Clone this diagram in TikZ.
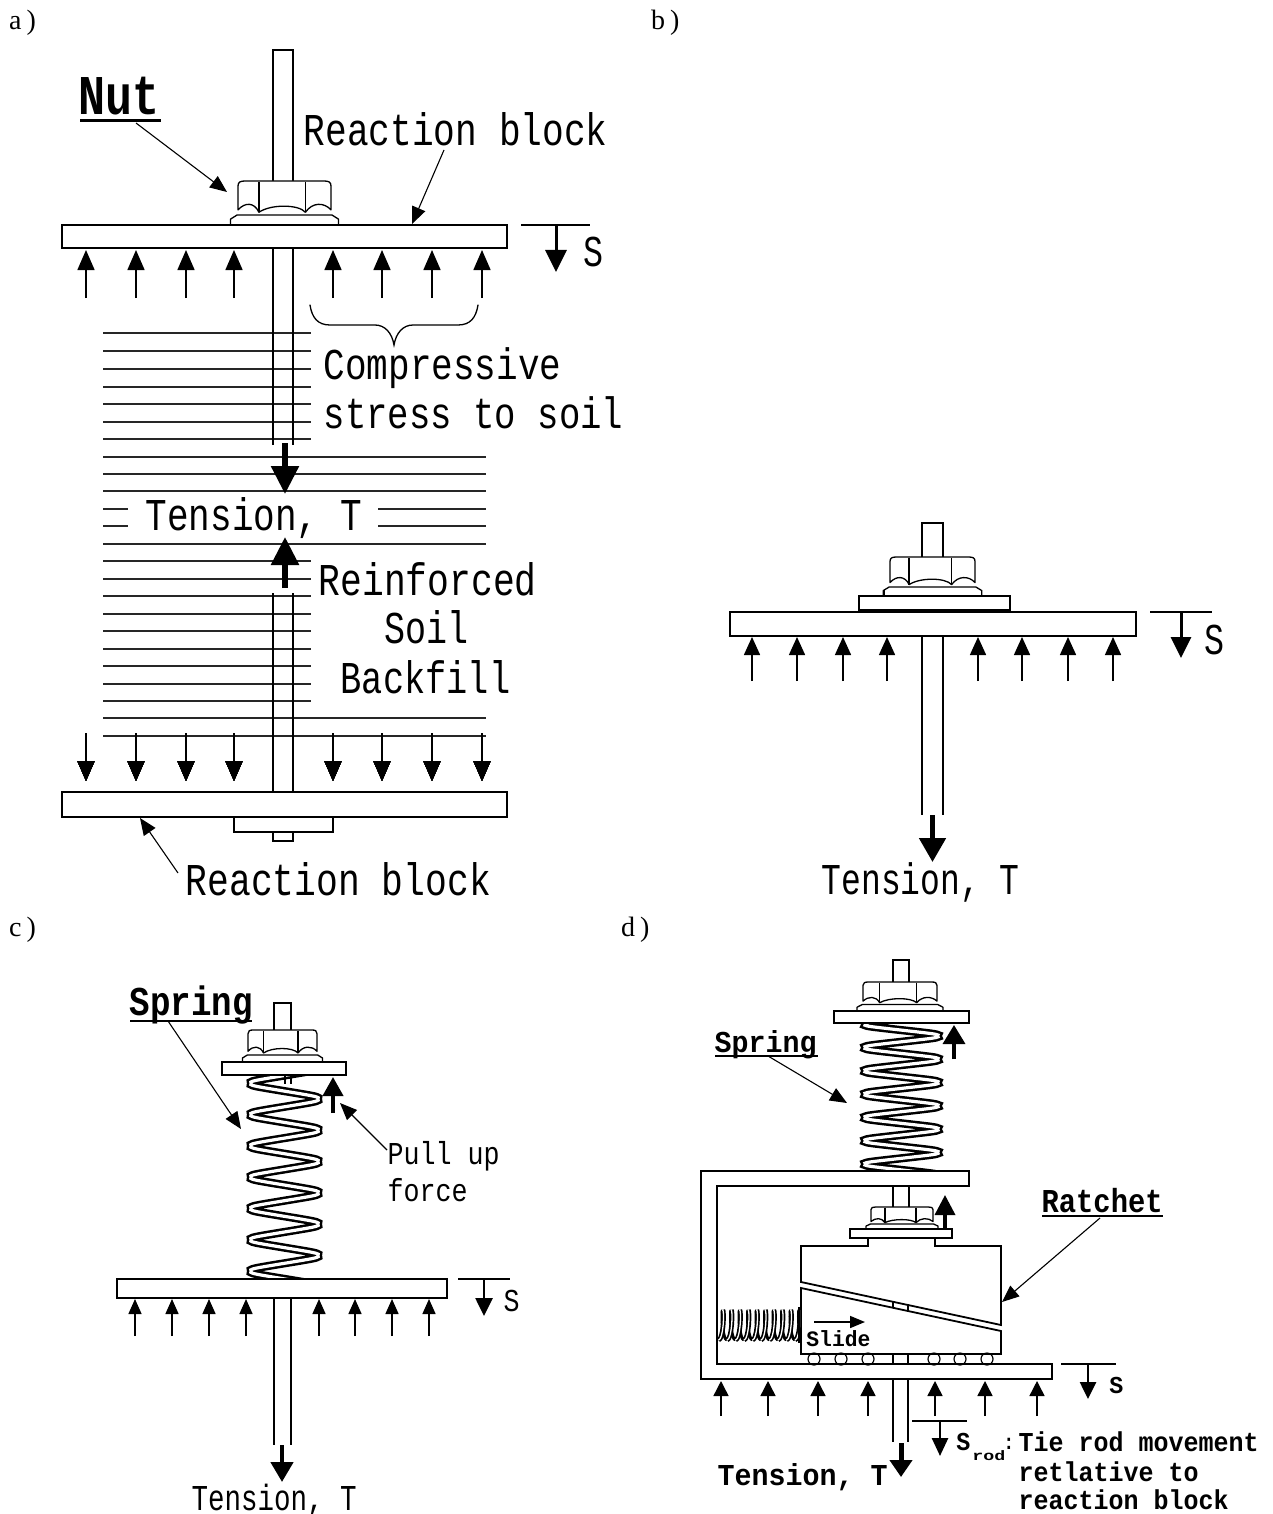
\documentclass[tikz,border=0pt]{standalone}
\usepackage{fontspec}
\usetikzlibrary{arrows.meta}
\newfontfamily\lmono{Liberation Mono}
\newfontfamily\lserif{Liberation Serif}
\tikzset{
  mono/.style 2 args={anchor=base west,inner sep=0pt,transform shape,xscale=#1/6,yscale=#2/6.59,font=\lmono\fontsize{10}{12}\selectfont},
  monob/.style 2 args={anchor=base west,inner sep=0pt,transform shape,xscale=#1/6,yscale=#2/6.59,font=\lmono\bfseries\fontsize{10}{12}\selectfont},
  panel/.style={anchor=base west,inner sep=0pt,font=\lserif\fontsize{28}{30}\selectfont},
  body/.style={line width=1.8pt,fill=white,line join=miter},
  thinl/.style={line width=1.8pt},
  soil/.style={line width=2pt,black!85},
  leader/.style={line width=1.1pt,-{Triangle[length=17pt,width=14pt]}},
  tube/.style={double=white,double distance=3.2pt,line width=2.5pt},
  tubes/.style={double=white,double distance=1.3pt,line width=1.7pt},
}
% force arrow: x, y start, y end, head length, head width, line width
\newcommand\farrow[6]{\draw[line width=#6pt,-{Triangle[length=#4pt,width=#5pt]}] (#1,#2) -- (#1,#3);}
% nut: x centre, y top, half width, height
\newcommand\nutshape[4]{%
\begin{scope}[shift={(#1,#2)},x=#3pt,y={(0pt,-#4pt)},line width=1.3pt,line join=round]
 \draw[fill=white] (-1,0.85) -- (-1,0.15) .. controls (-1,0.03) and (-0.95,0) .. (-0.85,0) -- (0.85,0) .. controls (0.95,0) and (1,0.03) .. (1,0.15) -- (1,0.85)
   .. controls (0.85,0.62) and (0.6,0.62) .. (0.45,0.92) .. controls (0.3,0.68) and (-0.3,0.68) .. (-0.55,0.92) .. controls (-0.65,0.62) and (-0.85,0.62) .. (-1,0.85) -- cycle;
 \draw (-0.55,0.03) -- (-0.55,0.92) (0.45,0.03) -- (0.45,0.92);
 \draw[fill=white] (-1.16,1.28) -- (-1.16,1.12) -- (-1.02,1) -- (1.02,1) -- (1.16,1.12) -- (1.16,1.28);
\end{scope}}
% coil: x centre, half width of centre line, y top, y bottom, pitch, y of first left turn, last turn index
\newcommand\coil[7]{%
\begin{scope}
 \clip (#1-#2-8,#3) rectangle (#1+#2+8,#4);
 \pgfmathsetmacro\cxl{#1-#2}\pgfmathsetmacro\cxr{#1+#2}
 \pgfmathsetmacro\cxli{#1-#2+6}\pgfmathsetmacro\cxri{#1+#2-6}
 \gdef\coilpts{}
 \foreach \k in {0,...,#7}{
  \pgfmathsetmacro\ya{#6+#5*\k}
  \pgfmathsetmacro\yb{#6+#5*\k+#5*0.1}
  \pgfmathsetmacro\yd{#6+#5*\k+#5*0.4}
  \pgfmathsetmacro\yc{#6+#5*\k+#5*0.5}
  \pgfmathsetmacro\ye{#6+#5*\k+#5*0.6}
  \pgfmathsetmacro\yf{#6+#5*\k+#5*0.9}
  \xdef\coilpts{\coilpts (\cxl,\ya) (\cxli,\yb) (\cxri,\yd) (\cxr,\yc) (\cxri,\ye) (\cxli,\yf) }
 }
 \edef\coildraw{\noexpand\draw[tube] plot[smooth,tension=0.5] coordinates {\coilpts};}
 \coildraw
\end{scope}}
\begin{document}
\begin{tikzpicture}[x=1pt,y=-1pt]
\useasboundingbox (0,0) rectangle (1273,1514);
\fill[white] (0,0) rectangle (1273,1514);

% ---------- panel a ----------
\node[panel] (pa) at (9,30) {a\kern5pt)};
\foreach \y in {333,351,369,387,404,422,439,561,579,596,614,631,649,666,684,701}
  \draw[soil] (103,\y) -- (311,\y);
\foreach \y in {457,474,491,544,718,736}
  \draw[soil] (103,\y) -- (486,\y);
\foreach \y in {509,526}{
  \draw[soil] (103,\y) -- (128,\y);
  \draw[soil] (378,\y) -- (486,\y);}
\draw[thinl] (273,248) -- (273,445) (293,248) -- (293,445);
\draw[thinl] (273,593) -- (273,792) (293,593) -- (293,792);
\draw[body] (273,181) -- (273,50) -- (293,50) -- (293,181);
\nutshape{284.5}{181}{46.5}{34}
\draw[body] (62,225) rectangle (507,248);
\foreach \x in {86,136,186,234,333,382,432,482} \farrow{\x}{298}{250}{20}{17}{1.5}
\foreach \x in {86,136,186,234,333,382,432,482} \farrow{\x}{733}{781}{20}{17}{1.5}
\draw[thinl] (521,225) -- (590,225);
\farrow{556}{225}{272}{22}{21}{3}
\node[mono={20}{29}] (sa) at (583,267) {S};
\farrow{285}{443}{494}{28}{27}{5.5}
\farrow{285}{588}{537}{28}{27}{5.5}
\draw[body] (234,817) rectangle (333,832);
\draw[body] (273,832) rectangle (293,841);
\draw[body] (62,792) rectangle (507,817);
\draw[line width=1.3pt,line cap=round] (310,305) .. controls (312,318) and (318,325) .. (330,325) -- (375,325) .. controls (385,325) and (392,333) .. (394,345) .. controls (396,333) and (403,325) .. (413,325) -- (458,325) .. controls (470,325) and (476,318) .. (478,305);
\node[monob={27}{37}] (nut) at (78,115) {Nut};
\draw[line width=3pt] (80,121) -- (161,121);
\node[mono={21.7}{30}] (rb1) at (303,146) {Reaction block};
\node[mono={21.6}{29}] (comp) at (323,379) {Compressive};
\node[mono={21.4}{29}] (stress) at (323,428) {stress to soil};
\node[mono={21.6}{30}] (tens) at (145,530) {Tension, T};
\node[mono={21.8}{30}] (reinf) at (318,595) {Reinforced};
\node[mono={21}{30}] (soiltxt) at (384,643) {Soil};
\node[mono={21.2}{30}] (back) at (340,693) {Backfill};
\node[mono={21.8}{30}] (rb2) at (185,895) {Reaction block};
\coordinate (nuts) at (136,123); \coordinate (nute) at (227,192);
\draw[leader] (nuts) -- (nute);
\coordinate (rb1s) at (444,150); \coordinate (rb1e) at (412,224);
\draw[leader] (rb1s) -- (rb1e);
\coordinate (rb2s) at (178,873); \coordinate (rb2e) at (140,818);
\draw[leader] (rb2s) -- (rb2e);

% ---------- panel b ----------
\node[panel] (pb) at (651,30) {b\kern5pt)};
\draw[body] (922,557) -- (922,523) -- (943,523) -- (943,557);
\nutshape{932.5}{557}{42.5}{30}
\draw[thinl] (884,596) -- (884,590);
\draw[body] (859,596) rectangle (1010,610);
\draw[thinl] (922,636) -- (922,815) (943,636) -- (943,815);
\draw[body] (730,612) rectangle (1136,636);
\foreach \x in {752,797,843,887,978,1022,1068,1113} \farrow{\x}{681}{637}{18}{16}{1.5}
\draw[thinl] (1150,612) -- (1212,612);
\farrow{1181}{612}{658}{21}{20}{3}
\node[mono={20}{29}] (sb) at (1204,654) {S};
\farrow{932.5}{815}{862}{24}{26}{5}
\node[mono={19.8}{29}] (tb) at (821,894) {Tension, T};

% ---------- panel c ----------
\node[panel] (pc) at (9,936) {c\kern5pt)};
\draw[body] (274,1030) -- (274,1003) -- (291,1003) -- (291,1030);
\nutshape{282.5}{1030}{34.5}{25}
\coil{284.5}{33.5}{1075}{1279}{31.3}{1052}{7}
\draw[line width=1.5pt] (285,1075) -- (285,1084) (291,1075) -- (291,1084);
\draw[body] (222,1062) rectangle (346,1075);
\draw[thinl] (274,1298) -- (274,1445) (291,1298) -- (291,1445);
\draw[body] (117,1279) rectangle (447,1298);
\foreach \x in {135,172,209,246,319,355,392,429} \farrow{\x}{1336}{1299}{15}{13}{1.5}
\draw[thinl] (458,1279) -- (510,1279);
\farrow{484}{1279}{1316}{18}{17}{2.6}
\node[mono={16}{21}] (sc) at (503,1311) {S};
\farrow{282}{1445}{1482}{20}{22}{4.5}
\node[mono={16.5}{24}] (tc) at (191,1510) {Tension, T};
\farrow{333}{1113}{1077}{19}{20}{4}
\node[monob={20.5}{27}] (springc) at (129,1015) {Spring};
\draw[line width=2.4pt] (130,1021) -- (252,1021);
\node[mono={16}{21}] (pull) at (387,1164) {Pull up};
\node[mono={16}{21}] (force) at (387,1201) {force};
\coordinate (sps) at (168,1021); \coordinate (spe) at (241,1129);
\draw[leader] (sps) -- (spe);
\coordinate (pus) at (387,1150); \coordinate (pue) at (340,1103);
\draw[leader] (pus) -- (pue);

% ---------- panel d ----------
\node[panel] (pd) at (621,936) {d\kern5pt)};
\draw[body] (893,982) -- (893,960) -- (909,960) -- (909,982);
\nutshape{900}{982}{37}{22.5}
\coil{901.5}{36}{1023}{1172}{23.3}{1001}{7}
\draw[body] (834,1011) rectangle (969,1023);
\draw[thinl,fill=white] (701,1171) -- (969,1171) -- (969,1186) -- (717,1186) -- (717,1364) -- (1052,1364) -- (1052,1379) -- (701,1379) -- cycle;
\farrow{954}{1059}{1025}{19}{22}{3.5}
\draw[thinl] (893,1186) -- (893,1207) (909,1186) -- (909,1207);
\nutshape{902}{1207}{31}{17}
\draw[body] (850,1229) rectangle (952,1238);
\farrow{945}{1229}{1195}{20}{20}{3.5}
\draw[body] (801,1282) -- (801,1246) -- (868,1246) -- (868,1238) -- (935,1238) -- (935,1246) -- (1001,1246) -- (1001,1325) -- cycle;
\draw[body] (801,1288) -- (1001,1331) -- (1001,1354) -- (801,1354) -- cycle;
\draw[line width=1.2pt] (893,1301) -- (893,1308) (908,1304) -- (908,1311);
\foreach \x in {814,841,868,934,960,987} \draw[line width=1.2pt] (\x,1359) circle (6);
\draw[thinl] (893,1354) -- (893,1364) (908,1354) -- (908,1364);
\draw[thinl] (893,1379) -- (893,1442) (908,1379) -- (908,1442);
\begin{scope}
 \clip (718,1300) rectangle (800,1350);
 \foreach \k in {1,3,...,21}{
  \pgfmathsetmacro\ta{180*\k}\pgfmathsetmacro\tb{180*\k+180}
  \draw[line width=3pt] plot[smooth,domain=\ta:\tb,samples=9,variable=\t] ({710+8.5/360*\t+2.5*sin(\t)},{1325+15*cos(\t)});}
 \foreach \k in {0,2,...,20}{
  \pgfmathsetmacro\ta{180*\k}\pgfmathsetmacro\tb{180*\k+180}
  \draw[tubes] plot[smooth,domain=\ta:\tb,samples=9,variable=\t] ({710+8.5/360*\t+2.5*sin(\t)},{1325+15*cos(\t)});}
\end{scope}
\draw[line width=1.2pt] (799,1307) -- (799,1343);
\draw[line width=1.6pt,-{Triangle[length=15pt,width=12pt]}] (814,1322) -- (865,1322);
\node[monob={12.8}{14.5}] (slide) at (806,1346) {Slide};
\foreach \x in {721,768,818,868,935,985,1037} \farrow{\x}{1416}{1381}{15}{15}{1.5}
\draw[thinl] (1061,1364) -- (1116,1364);
\farrow{1088}{1364}{1399}{17}{16}{2.6}
\node[monob={14}{16}] (sd) at (1109,1393) {S};
\draw[thinl] (912,1421) -- (967,1421);
\farrow{940}{1421}{1456}{18}{16}{2.6}
\node[monob={14}{17}] (srod) at (956,1450) {S};
\node[monob={11}{9}] (srodsub) at (972,1460) {rod};
\node[monob={11}{14}] (colon) at (1003,1449) {:};
\farrow{901}{1443}{1477}{17}{22}{5}
\node[monob={17}{20}] (td) at (717,1485) {Tension, T};
\node[monob={15}{18}] (tie) at (1018,1451) {Tie rod movement};
\node[monob={15}{18}] (ret) at (1018,1481) {retlative to};
\node[monob={15}{18}] (rea) at (1018,1509) {reaction block};
\node[monob={17}{20}] (springd) at (714,1052) {Spring};
\draw[line width=2pt] (715,1056) -- (818,1056);
\node[monob={17.3}{22}] (ratchet) at (1041,1212) {Ratchet};
\draw[line width=2pt] (1042,1216) -- (1163,1216);
\coordinate (sds) at (768,1056); \coordinate (sde) at (847,1103);
\draw[leader] (sds) -- (sde);
\coordinate (rcs) at (1100,1218); \coordinate (rce) at (1002,1302);
\draw[leader] (rcs) -- (rce);
\end{tikzpicture}
\end{document}
